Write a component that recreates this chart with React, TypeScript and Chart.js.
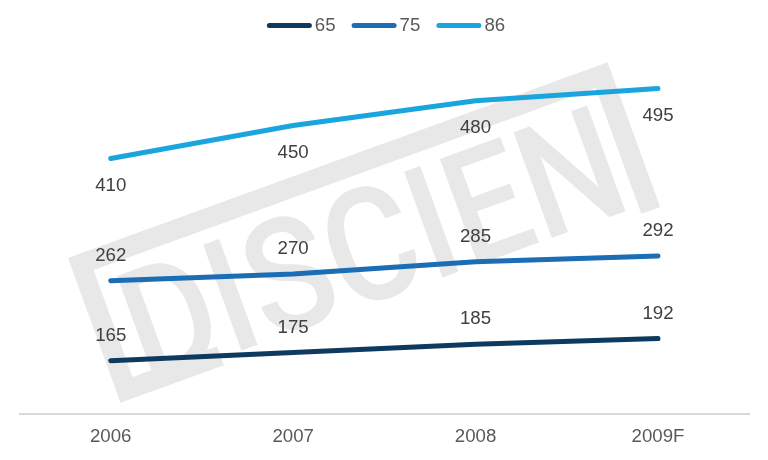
import React, { useEffect, useRef } from "react";
import { Chart, registerables } from "chart.js";

Chart.register(...registerables);

// ---- data ----
const categories = ["2006", "2007", "2008", "2009F"];
const seriesNames = ["65", "75", "86"];
const series65 = [165, 175, 185, 192];
const series75 = [262, 270, 285, 292];
const series86 = [410, 450, 480, 495];
const watermarkText = "DISCIEN";

// ---- styles ----
const seriesColors = ["#0e3a5f", "#1b6db4", "#1ba5df"];
const labelPlacement = ["above", "above", "below"];
const FONT = "'Liberation Sans', Arial, Helvetica, sans-serif";
const FONT_SIZE = 18.67;

const watermarkPlugin = {
  id: "watermark",
  beforeDatasetsDraw(chart: any) {
    const ctx = chart.ctx;
    ctx.save();
    ctx.translate(68, 258);
    ctx.rotate(-0.348);
    const col = "#e8e8e8";
    ctx.strokeStyle = col;
    ctx.fillStyle = col;
    ctx.lineWidth = 20;
    ctx.lineJoin = "miter";
    ctx.beginPath();
    ctx.moveTo(110, 144);
    ctx.lineTo(10, 144);
    ctx.lineTo(10, 10);
    ctx.lineTo(564, 10);
    ctx.lineTo(564, 154);
    ctx.stroke();
    ctx.font = `500 158px Roboto, 'DejaVu Sans', sans-serif`;
    ctx.textAlign = "left";
    ctx.textBaseline = "alphabetic";
    ctx.fillText(watermarkText, 30, 146, 520);
    ctx.restore();
  },
};

const dataLabelPlugin = {
  id: "dataLabels",
  afterDatasetsDraw(chart: any) {
    const ctx = chart.ctx;
    ctx.save();
    ctx.font = `${FONT_SIZE}px ${FONT}`;
    ctx.fillStyle = "#404040";
    ctx.textAlign = "center";
    ctx.textBaseline = "middle";
    chart.data.datasets.forEach((ds: any, i: number) => {
      const meta = chart.getDatasetMeta(i);
      meta.data.forEach((pt: any, j: number) => {
        const off = labelPlacement[i] === "below" ? 27 : -25;
        ctx.fillText(String(ds.data[j]), pt.x, pt.y + off);
      });
    });
    ctx.restore();
  },
};

const legendPlugin = {
  id: "customLegend",
  afterDraw(chart: any) {
    const ctx = chart.ctx;
    ctx.save();
    ctx.font = `${FONT_SIZE}px ${FONT}`;
    const lineVis = 45;
    const textGap = 3;
    const itemGap = 16;
    const items = chart.data.datasets.map((ds: any) => ({
      text: ds.label,
      color: ds.borderColor,
      w: lineVis + textGap + ctx.measureText(ds.label).width,
    }));
    const total =
      items.reduce((s: number, it: any) => s + it.w, 0) + itemGap * (items.length - 1);
    let x = chart.width / 2 + 2 - total / 2;
    const y = 25.5;
    items.forEach((it: any) => {
      ctx.strokeStyle = it.color;
      ctx.lineWidth = 5;
      ctx.lineCap = "round";
      ctx.beginPath();
      ctx.moveTo(x + 2.5, y);
      ctx.lineTo(x + lineVis - 2.5, y);
      ctx.stroke();
      ctx.fillStyle = "#595959";
      ctx.textAlign = "left";
      ctx.textBaseline = "middle";
      ctx.fillText(it.text, x + lineVis + textGap, y);
      x += it.w + itemGap;
    });
    ctx.restore();
  },
};

export default function App() {
  const canvasRef = useRef<HTMLCanvasElement | null>(null);

  useEffect(() => {
    if (!canvasRef.current) return;
    const allSeries = [series65, series75, series86];
    const chart = new Chart(canvasRef.current, {
      type: "line",
      data: {
        labels: categories,
        datasets: allSeries.map((d, i) => ({
          label: seriesNames[i],
          data: d,
          borderColor: seriesColors[i],
          backgroundColor: seriesColors[i],
          borderWidth: 5,
          borderCapStyle: "round",
          borderJoinStyle: "round",
          tension: 0,
          pointRadius: 0,
          pointHoverRadius: 0,
          fill: false,
        })),
      },
      options: {
        animation: false,
        responsive: true,
        maintainAspectRatio: false,
        layout: { padding: { left: 19.5, right: 18.8, top: 43, bottom: 0.4 } },
        plugins: {
          legend: { display: false },
          tooltip: { enabled: false },
        },
        scales: {
          x: {
            offset: true,
            grid: { display: false, drawTicks: false },
            border: { display: true, color: "#d9d9d9", width: 2 },
            ticks: {
              color: "#595959",
              font: { family: FONT, size: FONT_SIZE },
              padding: 11.4,
            },
          },
          y: { display: false, min: 100, max: 550 },
        },
      },
      plugins: [watermarkPlugin, dataLabelPlugin, legendPlugin],
    } as any);
    return () => chart.destroy();
  }, []);

  return (
    <div
      style={{
        position: "fixed",
        left: 0,
        top: 0,
        width: 768,
        height: 460,
        background: "#ffffff",
      }}
    >
      <canvas ref={canvasRef} />
    </div>
  );
}
